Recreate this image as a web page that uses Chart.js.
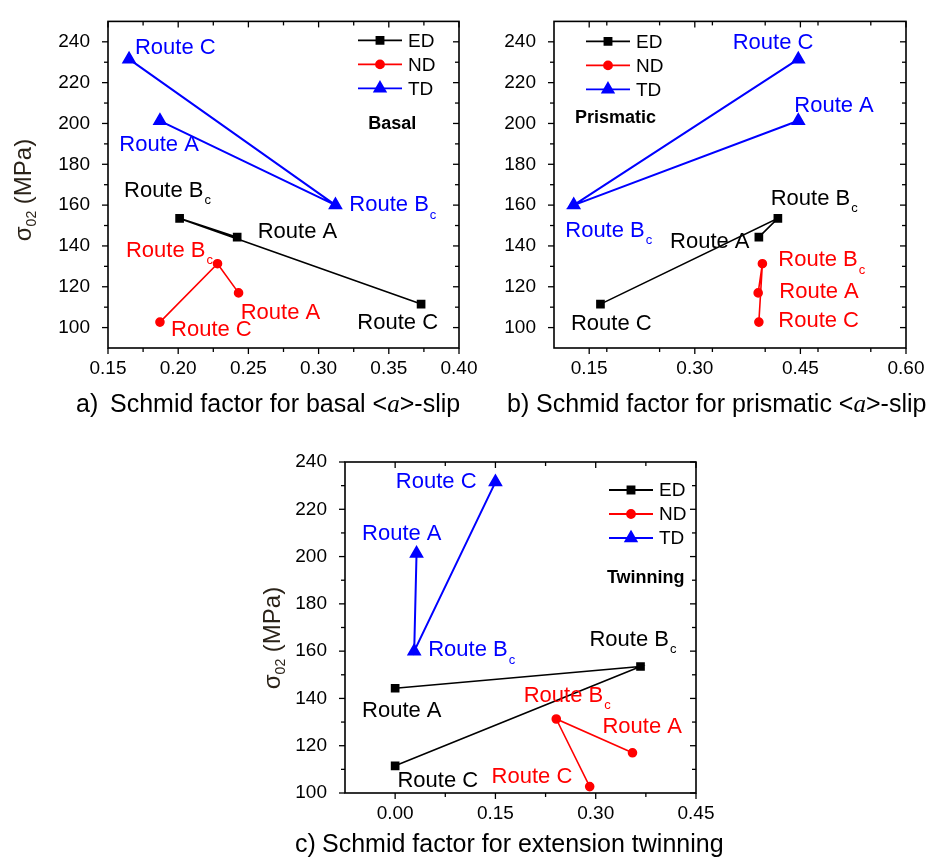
<!DOCTYPE html>
<html>
<head>
<meta charset="utf-8">
<script src="https://cdn.jsdelivr.net/npm/chart.js@4.4.0/dist/chart.umd.min.js"></script>
<style>
body { margin: 0; background: #fff; }
#wrap { position: relative; width: 927px; height: 857px; }
canvas { position: absolute; left: 0; top: 0; }
</style>
</head>
<body>
<div id="wrap">
	<canvas id="basal" width="927" height="857"></canvas>
	<canvas id="prism" width="927" height="857"></canvas>
	<canvas id="twin" width="927" height="857"></canvas>
</div>
<script>
// order of points in every series: Route A, Route Bc, Route C
const routes = ['Route A', 'Route B', 'Route C']
const routeSub = ['', 'c', '']
const seriesNames = ['ED', 'ND', 'TD']

// sigma_02 (MPa)
const sigmaED = [144.3, 153.5, 111.5]
const sigmaND = [117, 131.3, 102.7]
const sigmaTD = [201.3, 160, 231.5]

// Schmid factors
const basalED = [0.242, 0.201, 0.373]
const basalND = [0.243, 0.228, 0.187]
const basalTD = [0.187, 0.312, 0.165]

const prismED = [0.391, 0.418, 0.166]
const prismND = [0.390, 0.396, 0.391]
const prismTD = [0.447, 0.128, 0.447]

const twinED = [0.0, 0.367, 0.0]
const twinND = [0.355, 0.241, 0.291]
const twinTD = [0.032, 0.0285, 0.15]

// tick labels
const basalTicks = [0.15, 0.20, 0.25, 0.30, 0.35, 0.40]
const prismTicks = [0.15, 0.30, 0.45, 0.60]
const twinTicks = [0.00, 0.15, 0.30, 0.45]
const sigmaTicks = [100, 120, 140, 160, 180, 200, 220, 240]

const FONT = '"Liberation Sans", Arial, sans-serif'
const colors = ['#000000', '#ff0000', '#0000ff']
const markers = [['rect', 5], ['circle', 4], ['triangle', 6.5]]

// label anchors in data units (left edge, vertical middle), per series, in route order
const basalLabelPos = [
	[[0.2566, 147.0], [0.1614, 167.0], [0.3276, 102.2]],
	[[0.2445, 107.4], [0.1628, 137.7], [0.1949, 98.7]],
	[[0.1581, 189.4], [0.3219, 159.9], [0.1692, 236.9]]
]
const prismLabelPos = [
	[[0.2648, 142.2], [0.4078, 163.1], [0.1241, 101.6]],
	[[0.4200, 117.7], [0.4186, 132.9], [0.4186, 103.2]],
	[[0.4413, 208.8], [0.1160, 147.4], [0.3538, 239.4]]
]
const twinLabelPos = [
	[[-0.0495, 134.5], [0.2906, 164.8], [0.0035, 104.9]],
	[[0.3101, 127.9], [0.1923, 141.1], [0.1443, 106.8]],
	[[-0.0495, 209.4], [0.0494, 160.5], [0.0010, 231.4]]
]

function minorsOf(majors, step, lo, hi) {
	let out = []
	for (let v = lo; v <= hi + 1e-9; v += step) {
		if (!majors.some(m => Math.abs(m - v) < 1e-6) && v > lo + 1e-6 && v < hi - 1e-6) out.push(v)
	}
	return out
}

function makeDatasets(xs, ys) {
	return xs.map((xv, i) => ({
		label: seriesNames[i],
		data: xv.map((x, j) => ({ x: x, y: ys[i][j] })),
		showLine: true,
		borderColor: colors[i],
		backgroundColor: colors[i],
		borderWidth: i == 2 ? 2 : 1.6,
		pointStyle: markers[i][0],
		pointRadius: markers[i][1],
		pointHoverRadius: markers[i][1],
	}))
}

function decorPlugin(p) {
	return {
		id: 'decor',
		afterDatasetsDraw(chart) {
			const ctx = chart.ctx, a = chart.chartArea
			const sx = chart.scales.x, sy = chart.scales.y
			ctx.save()
			ctx.strokeStyle = '#000'
			const line = (x1, y1, x2, y2) => { ctx.beginPath(); ctx.moveTo(x1, y1); ctx.lineTo(x2, y2); ctx.stroke() }
			// ticks: out on left/bottom, in on top/right
			ctx.lineWidth = 1.3
			const xMin = minorsOf(p.xTicks, p.xMinorStep, p.xMin, p.xMax)
			const yMin = minorsOf(sigmaTicks, 10, p.yMin, p.yMax)
			p.xTicks.forEach(v => { const q = sx.getPixelForValue(v); line(q, a.bottom, q, a.bottom + 6); line(q, a.top, q, a.top + 6) })
			xMin.forEach(v => { const q = sx.getPixelForValue(v); line(q, a.bottom, q, a.bottom + 4); line(q, a.top, q, a.top + 4) })
			sigmaTicks.forEach(v => { const q = sy.getPixelForValue(v); line(a.left - 6, q, a.left, q); line(a.right - 6, q, a.right, q) })
			yMin.forEach(v => { const q = sy.getPixelForValue(v); line(a.left - 4, q, a.left, q); line(a.right - 4, q, a.right, q) })
			// frame
			ctx.lineWidth = 1.6
			ctx.strokeRect(a.left, a.top, a.right - a.left, a.bottom - a.top)

			// route labels
			ctx.textBaseline = 'middle'
			ctx.textAlign = 'left'
			p.labels.forEach((ser, i) => {
				ctx.fillStyle = colors[i]
				ser.forEach((pos, j) => {
					const x = sx.getPixelForValue(pos[0]), y = sy.getPixelForValue(pos[1])
					ctx.font = '22px ' + FONT
					ctx.fillText(routes[j], x, y)
					if (routeSub[j]) {
						const w = ctx.measureText(routes[j]).width
						ctx.font = '13px ' + FONT
						ctx.fillText(routeSub[j], x + w + 1, y + 10)
					}
				})
			})
			// mode label
			ctx.fillStyle = '#000'
			ctx.font = 'bold 18px ' + FONT
			ctx.fillText(p.mode[0], sx.getPixelForValue(p.mode[1]), sy.getPixelForValue(p.mode[2]))

			// legend
			chart.data.datasets.forEach((ds, i) => {
				const lx = p.legend.fromRight ? a.right - p.legend.dx : a.left + p.legend.dx
				const ly = a.top + p.legend.dy + i * 24
				ctx.strokeStyle = ds.borderColor
				ctx.lineWidth = 1.8
				line(lx, ly, lx + 44, ly)
				ctx.fillStyle = ds.borderColor
				const r = ds.pointRadius
				Chart.helpers.drawPoint(ctx, { pointStyle: ds.pointStyle, radius: r, borderWidth: 1, rotation: 0 }, lx + 22, ly)
				ctx.fill()
				ctx.fillStyle = '#000'
				ctx.font = '19px ' + FONT
				ctx.fillText(ds.label, lx + 50, ly + 1)
			})

			// y title
			if (p.yTitle) {
				ctx.save()
				ctx.translate(p.yTitle[0], p.yTitle[1])
				ctx.rotate(-Math.PI / 2)
				ctx.fillStyle = '#2a2218'
				ctx.font = '24px ' + FONT
				const w1 = ctx.measureText('\u03c3').width
				const w3 = ctx.measureText(' (MPa)').width
				ctx.font = '14px ' + FONT
				const w2 = ctx.measureText('02').width
				let x0 = -(w1 + w2 + w3) / 2
				ctx.font = '24px ' + FONT
				ctx.fillText('\u03c3', x0, 0)
				ctx.font = '14px ' + FONT
				ctx.fillText('02', x0 + w1, 8)
				ctx.font = '24px ' + FONT
				ctx.fillText(' (MPa)', x0 + w1 + w2, 0)
				ctx.restore()
			}

			// x title
			ctx.fillStyle = '#000'
			ctx.font = '25px ' + FONT
			ctx.fillText(p.xTitle.tag, p.xTitle.x0, p.xTitle.y)
			let x = p.xTitle.x1
			p.xTitle.parts.forEach(part => {
				ctx.font = part[1] ? 'italic 25px "Liberation Serif", "Times New Roman", serif' : '25px ' + FONT
				ctx.fillText(part[0], x, p.xTitle.y)
				x += ctx.measureText(part[0]).width
			})
			ctx.restore()
		}
	}
}

function createPanel(id, p) {
	const ctx = document.getElementById(id).getContext('2d')
	return new Chart(ctx, {
		type: 'scatter',
		data: { datasets: makeDatasets(p.xs, [sigmaED, sigmaND, sigmaTD]) },
		options: {
			responsive: false,
			animation: false,
			layout: { padding: p.pad },
			plugins: { legend: { display: false }, tooltip: { enabled: false } },
			scales: {
				x: {
					type: 'linear', min: p.xMin, max: p.xMax,
					grid: { display: false },
					border: { display: false },
					afterBuildTicks: s => { s.ticks = p.xTicks.map(v => ({ value: v })) },
					afterFit: s => { s.height = p.xH },
					ticks: { color: '#000', padding: 1, maxRotation: 0, font: { family: FONT, size: 19 }, callback: v => v.toFixed(2) }
				},
				y: {
					type: 'linear', min: p.yMin, max: p.yMax,
					grid: { display: false },
					border: { display: false },
					afterBuildTicks: s => { s.ticks = sigmaTicks.map(v => ({ value: v })) },
					afterFit: s => { s.width = p.yW },
					ticks: { color: '#000', padding: 10, font: { family: FONT, size: 19 }, callback: v => String(v) }
				}
			}
		},
		plugins: [decorPlugin(p)]
	})
}

createPanel('basal', {
	xs: [basalED, basalND, basalTD], labels: basalLabelPos,
	xMin: 0.15, xMax: 0.40, xTicks: basalTicks, xMinorStep: 0.025, yMin: 90, yMax: 250,
	pad: { left: 0, top: 17, right: 468, bottom: 439 }, yW: 108, xH: 70,
	mode: ['Basal', 0.3354, 199.7],
	legend: { fromRight: true, dx: 101, dy: 19 },
	yTitle: [24, 190],
	xTitle: { tag: 'a)', x0: 76, x1: 110, y: 405, parts: [['Schmid factor for basal <', false], ['a', true], ['>-slip', false]] }
})

createPanel('prism', {
	xs: [prismED, prismND, prismTD], labels: prismLabelPos,
	xMin: 0.10, xMax: 0.60, xTicks: prismTicks, xMinorStep: 0.075, yMin: 90, yMax: 250,
	pad: { left: 494, top: 17, right: 21, bottom: 439 }, yW: 60, xH: 70,
	mode: ['Prismatic', 0.1298, 202.6],
	legend: { fromRight: false, dx: 32, dy: 20 },
	yTitle: null,
	xTitle: { tag: 'b)', x0: 507, x1: 536, y: 405, parts: [['Schmid factor for prismatic <', false], ['a', true], ['>-slip', false]] }
})

createPanel('twin', {
	xs: [twinED, twinND, twinTD], labels: twinLabelPos,
	xMin: -0.075, xMax: 0.45, xTicks: twinTicks, xMinorStep: 0.075, yMin: 100, yMax: 240,
	pad: { left: 265, top: 462, right: 231, bottom: 4 }, yW: 80, xH: 60,
	mode: ['Twinning', 0.3167, 190.9],
	legend: { fromRight: true, dx: 87, dy: 28 },
	yTitle: [273, 638],
	xTitle: { tag: 'c)', x0: 295, x1: 322, y: 845, parts: [['Schmid factor for extension twinning', false]] }
})
</script>
</body>
</html>
